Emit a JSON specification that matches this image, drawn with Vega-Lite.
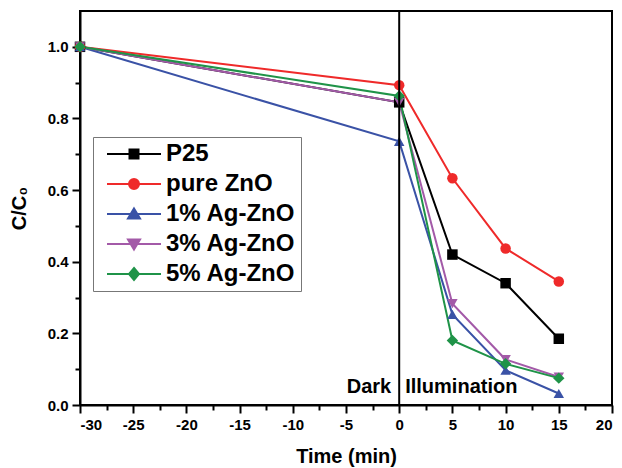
{
  "$schema": "https://vega.github.io/schema/vega-lite/v6.json",
  "width": 532,
  "height": 394,
  "autosize": {"type": "none"},
  "padding": {"left": 80, "top": 11, "right": 10, "bottom": 63},
  "background": "white",
  "config": {
    "view": {"stroke": "black", "strokeWidth": 2},
    "font": "Liberation Sans",
    "axis": {"grid": false, "domainColor": "black", "domainWidth": 2, "tickColor": "black", "tickWidth": 2,
      "labelFont": "Liberation Sans", "labelFontWeight": "bold", "labelFontSize": 15, "labelColor": "black",
      "titleFont": "Liberation Sans", "titleFontWeight": "bold", "titleFontSize": 20, "titleColor": "black"}
  },
  "datasets": {
    "series": [
      {"sample": "P25", "time": -30, "ratio": 1.0},
      {"sample": "P25", "time": 0, "ratio": 0.845},
      {"sample": "P25", "time": 5, "ratio": 0.42},
      {"sample": "P25", "time": 10, "ratio": 0.34},
      {"sample": "P25", "time": 15, "ratio": 0.185},
      {"sample": "pure ZnO", "time": -30, "ratio": 1.0},
      {"sample": "pure ZnO", "time": 0, "ratio": 0.893},
      {"sample": "pure ZnO", "time": 5, "ratio": 0.633},
      {"sample": "pure ZnO", "time": 10, "ratio": 0.437},
      {"sample": "pure ZnO", "time": 15, "ratio": 0.345},
      {"sample": "1% Ag-ZnO", "time": -30, "ratio": 1.0},
      {"sample": "1% Ag-ZnO", "time": 0, "ratio": 0.736},
      {"sample": "1% Ag-ZnO", "time": 5, "ratio": 0.253},
      {"sample": "1% Ag-ZnO", "time": 10, "ratio": 0.097},
      {"sample": "1% Ag-ZnO", "time": 15, "ratio": 0.032},
      {"sample": "3% Ag-ZnO", "time": -30, "ratio": 1.0},
      {"sample": "3% Ag-ZnO", "time": 0, "ratio": 0.845},
      {"sample": "3% Ag-ZnO", "time": 5, "ratio": 0.283},
      {"sample": "3% Ag-ZnO", "time": 10, "ratio": 0.127},
      {"sample": "3% Ag-ZnO", "time": 15, "ratio": 0.078},
      {"sample": "5% Ag-ZnO", "time": -30, "ratio": 1.0},
      {"sample": "5% Ag-ZnO", "time": 0, "ratio": 0.863},
      {"sample": "5% Ag-ZnO", "time": 5, "ratio": 0.18},
      {"sample": "5% Ag-ZnO", "time": 10, "ratio": 0.115},
      {"sample": "5% Ag-ZnO", "time": 15, "ratio": 0.075}
    ],
    "labels": [
      {"time": 0, "ratio": 0.05, "text": "Dark", "side": "left"},
      {"time": 0, "ratio": 0.05, "text": "Illumination", "side": "right"}
    ],
    "divider": [{"time": 0}]
  },
  "encoding": {
    "x": {"field": "time", "type": "quantitative", "scale": {"domain": [-30, 20], "nice": false},
      "axis": {"title": "Time (min)", "values": [-30, -27.5, -25, -22.5, -20, -17.5, -15, -12.5, -10, -7.5, -5, -2.5, 0, 2.5, 5, 7.5, 10, 12.5, 15, 17.5, 20],
        "labelExpr": "datum.value % 5 == 0 ? '' + datum.value : ''",
        "tickSize": {"condition": {"test": "datum.value % 5 != 0", "value": 5}, "value": 8},
        "labelPadding": 4, "titlePadding": 14}},
    "y": {"field": "ratio", "type": "quantitative", "scale": {"domain": [0, 1.1], "nice": false, "zero": false},
      "axis": {"title": "C/C₀", "values": [0, 0.1, 0.2, 0.3, 0.4, 0.5, 0.6, 0.7, 0.8, 0.9, 1.0],
        "labelExpr": "round(datum.value * 10) % 2 == 0 ? format(datum.value, '.1f') : ''",
        "tickSize": {"condition": {"test": "round(datum.value * 10) % 2 != 0", "value": 5}, "value": 8},
        "labelPadding": 4, "titlePadding": 18}},
    "color": {"field": "sample", "type": "nominal",
      "scale": {"domain": ["P25", "pure ZnO", "1% Ag-ZnO", "3% Ag-ZnO", "5% Ag-ZnO"],
        "range": ["#000000", "#ef2a2a", "#3a52a6", "#a35aa8", "#1f9348"]},
      "legend": {
        "title": null, "orient": "none", "legendX": 13, "legendY": 126,
        "strokeColor": "#777777", "fillColor": "white", "padding": 5,
        "symbolSize": 400, "symbolOffset": 24, "labelOffset": 20,
        "labelFont": "Liberation Sans", "labelFontWeight": "bold", "labelFontSize": 24, "labelColor": "black",
        "rowPadding": 6, "labelLimit": 300,
        "labelExpr": "(datum.value == 'P25' || datum.value == 'pure ZnO') ? '\u00a0' + datum.label : datum.label",
        "encode": {"symbols": {"update": {
          "stroke": {"signal": "scale('color', datum.value)"},
          "fill": {"signal": "scale('color', datum.value)"},
          "strokeWidth": {"value": 2},
          "opacity": {"value": 1},
          "shape": {"signal": "datum.value == 'P25' ? 'M-2.7,0H2.7M-0.45,-0.45H0.45V0.45H-0.45Z' : datum.value == 'pure ZnO' ? 'M-2.7,0H2.7M0.5,0A0.5,0.5 0 1,1 -0.5,0A0.5,0.5 0 1,1 0.5,0Z' : datum.value == '1% Ag-ZnO' ? 'M-2.7,0H2.7M0,-0.55L0.6,0.45L-0.6,0.45Z' : datum.value == '3% Ag-ZnO' ? 'M-2.7,0H2.7M0,0.55L0.6,-0.45L-0.6,-0.45Z' : 'M-2.7,0H2.7M0,-0.6L0.5,0L0,0.6L-0.5,0Z'"}
        }}}
      }}
  },
  "layer": [
    {
      "data": {"name": "series"},
      "transform": [{"filter": "datum.sample == 'P25'"}],
      "mark": {"type": "line", "strokeWidth": 2},
      "encoding": {"order": {"field": "time"}}
    },
    {
      "data": {"name": "series"},
      "transform": [{"filter": "datum.sample != 'P25'"}],
      "mark": {"type": "line", "strokeWidth": 2},
      "encoding": {"order": {"field": "time"}}
    },
    {
      "data": {"name": "series"},
      "transform": [{"filter": "datum.sample == 'P25'"}],
      "mark": {"type": "point", "filled": true, "opacity": 1, "shape": "square", "size": 110},
      "encoding": {}
    },
    {
      "data": {"name": "series"},
      "transform": [{"filter": "datum.sample == 'pure ZnO'"}],
      "mark": {"type": "point", "filled": true, "opacity": 1, "shape": "circle", "size": 110},
      "encoding": {}
    },
    {
      "data": {"name": "series"},
      "transform": [{"filter": "datum.sample == '1% Ag-ZnO'"}],
      "mark": {"type": "point", "filled": true, "opacity": 1, "shape": "triangle-up", "size": 110},
      "encoding": {}
    },
    {
      "data": {"name": "series"},
      "transform": [{"filter": "datum.sample == '3% Ag-ZnO'"}],
      "mark": {"type": "point", "filled": true, "opacity": 1, "shape": "triangle-down", "size": 110},
      "encoding": {}
    },
    {
      "data": {"name": "series"},
      "transform": [{"filter": "datum.sample == '5% Ag-ZnO'"}],
      "mark": {"type": "point", "filled": true, "opacity": 1, "shape": "diamond", "size": 130},
      "encoding": {}
    },
    {
      "data": {"name": "divider"},
      "mark": {"type": "rule", "strokeWidth": 2},
      "encoding": {"x": {"field": "time", "type": "quantitative"}, "y": null, "color": {"value": "black"}}
    },
    {
      "data": {"name": "labels"},
      "transform": [{"filter": "datum.side == 'left'"}],
      "mark": {"type": "text", "align": "right", "baseline": "middle", "dx": -8, "font": "Liberation Sans", "fontWeight": "bold", "fontSize": 20},
      "encoding": {"text": {"field": "text"}, "color": {"value": "black"}}
    },
    {
      "data": {"name": "labels"},
      "transform": [{"filter": "datum.side == 'right'"}],
      "mark": {"type": "text", "align": "left", "baseline": "middle", "dx": 6, "font": "Liberation Sans", "fontWeight": "bold", "fontSize": 20},
      "encoding": {"text": {"field": "text"}, "color": {"value": "black"}}
    }
  ]
}
